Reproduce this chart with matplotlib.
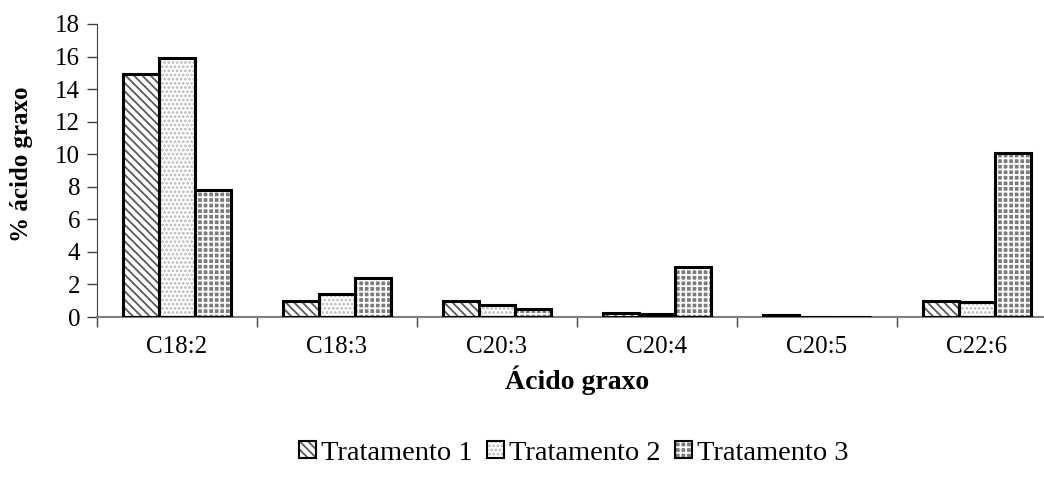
import matplotlib
matplotlib.use("Agg")
import matplotlib.pyplot as plt
import numpy as np

categories = ["C18:2", "C18:3", "C20:3", "C20:4", "C20:5", "C22:6"]
series_names = ["Tratamento 1", "Tratamento 2", "Tratamento 3"]
t1 = [14.9, 1.0, 1.0, 0.25, 0.1, 1.0]
t2 = [15.9, 1.4, 0.75, 0.2, 0.0, 0.9]
t3 = [7.8, 2.4, 0.5, 3.1, 0.0, 10.05]
y_ticks = [0, 2, 4, 6, 8, 10, 12, 14, 16, 18]

plt.rcParams['font.family'] = ['Liberation Serif', 'DejaVu Serif']
plt.rcParams['hatch.linewidth'] = 1.3

W, H = 1044, 483
fig = plt.figure(figsize=(W / 100, H / 100), dpi=100)
ax = fig.add_axes([97 / W, 1 - 317 / H, 960 / W, 293 / H])

x = np.arange(len(categories))
bw = 0.225
styles = [
    dict(hatch='\\\\\\\\', face='white', hc='#5a5a5a'),
    dict(hatch='....', face='white', hc='#b8b8b8'),
    dict(hatch='+++', face='#7c7c7c', hc='white'),
]
handles = []
for i, (vals, st) in enumerate(zip([t1, t2, t3], styles)):
    pos = x + (i - 1) * bw
    ax.bar(pos, vals, bw, facecolor=st['face'], edgecolor=st['hc'], hatch=st['hatch'], linewidth=0, zorder=2)
    ax.bar(pos, vals, bw, facecolor='none', edgecolor='black', linewidth=2.2, zorder=3)
    h = plt.Rectangle((0, 0), 1, 1, facecolor=st['face'], edgecolor=st['hc'], hatch=st['hatch'], linewidth=0)
    h2 = plt.Rectangle((0, 0), 1, 1, facecolor='none', edgecolor='black', linewidth=1.5)
    handles.append((h, h2))

ax.set_xlim(-0.5, len(categories) - 0.5)
ax.set_ylim(0, 18)
ax.set_yticks(y_ticks)
ax.set_xticks(x)
ax.set_xticklabels(categories)
ax.set_xticks(np.arange(len(categories) + 1) - 0.5, minor=True)
ax.tick_params(axis='x', which='major', length=0, pad=14, labelsize=18)
ax.tick_params(axis='x', which='minor', length=7, width=1, color='#404040', direction='out')
ax.tick_params(axis='y', length=7, width=1, color='#404040', labelsize=18, pad=5)
for s in ['top', 'right']:
    ax.spines[s].set_visible(False)
ax.spines['left'].set_color('#404040')
ax.spines['bottom'].set_color('#808080')
ax.spines['bottom'].set_linewidth(1.5)

fig.text(577 / W, 1 - 380 / H, "Ácido graxo", ha='center', va='center', fontsize=20, fontweight='bold')
fig.text(22 / W, 1 - 164 / H, "% ácido graxo", ha='center', va='center', rotation=90, fontsize=18, fontweight='bold')

fig.legend(handles, series_names, loc='center', bbox_to_anchor=(574 / W, 1 - 453 / H), ncol=3,
           frameon=False, fontsize=20.5, handlelength=0.58, handleheight=0.58, handletextpad=0.2,
           columnspacing=0.5)

fig.savefig("out.png", dpi=100)
